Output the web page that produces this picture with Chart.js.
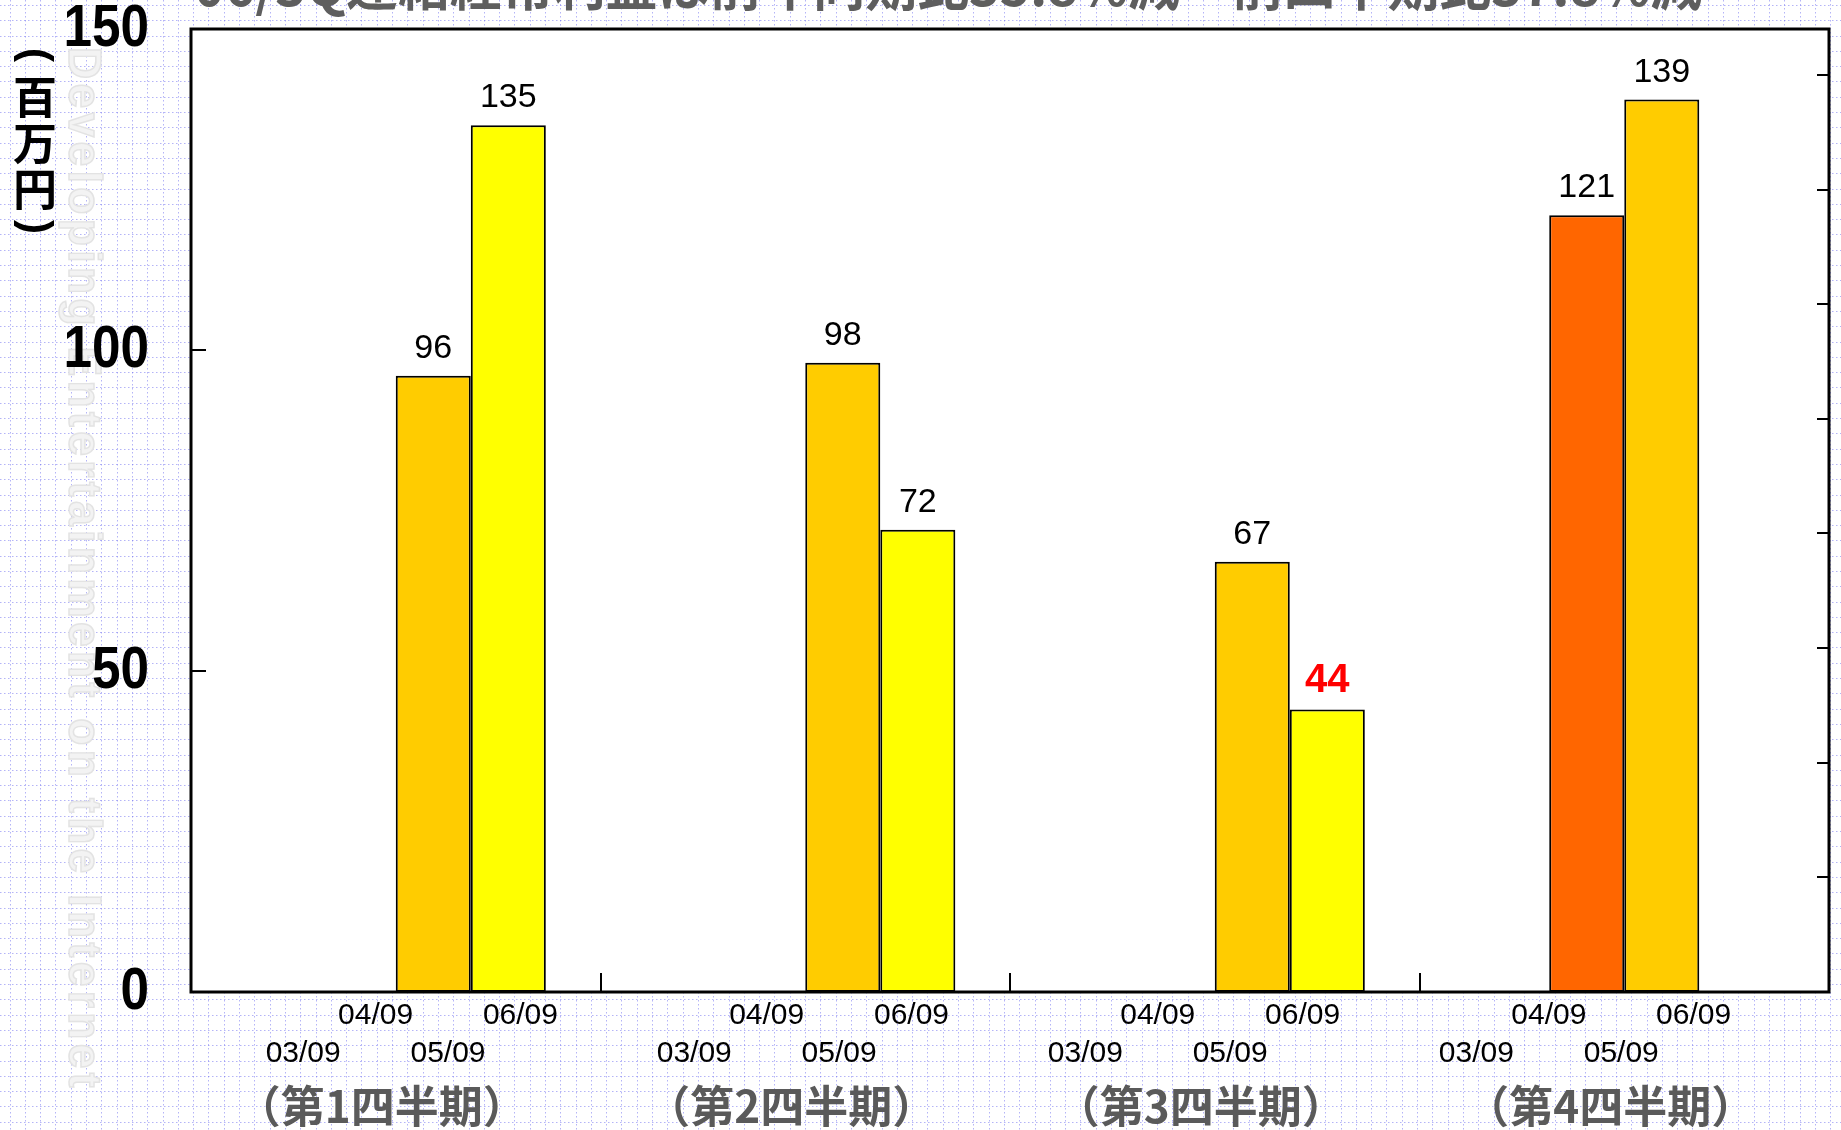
<!DOCTYPE html>
<html lang="ja">
<head>
<meta charset="utf-8">
<title>連結経常利益 四半期推移</title>
<script src="https://cdn.jsdelivr.net/npm/chart.js@4.4.1/dist/chart.umd.min.js"></script>
<style>
  html, body { margin: 0; padding: 0; background: #fff; }
  #wrap { width: 1841px; height: 1130px; position: relative; }
</style>
</head>
<body>
<div id="wrap"><canvas id="profit"></canvas></div>
<script>
// quarterly recurring profit (百万円), one series per fiscal year
const quarters = ['（第1四半期）', '（第2四半期）', '（第3四半期）', '（第4四半期）'];
const periods = ['03/09', '04/09', '05/09', '06/09'];
const fy03 = [null, null, null, null];
const fy04 = [null, null, null, 121];
const fy05 = [96, 98, 67, 139];
const fy06 = [135, 72, 44, null];
const yTicks = [0, 50, 100, 150];
const rightTicks = [1, 2, 3, 4, 5, 6, 7, 8];
const headline = '06/3Q連結経常利益は前年同期比35.8%減　前四半期比37.8%減';
const unitChars = ['(', '百', '万', '円', ')'];
const slogan = 'Developing Entertainment on the Internet';

const barColors = ['#FF3300', '#FF6600', '#FFCC00', '#FFFF00'];
const catPct = 0.733;

const SANS = '"Liberation Sans", Arial, sans-serif';
const JP = '"Noto Sans CJK JP", "Noto Sans", sans-serif';

const decor = {
  id: 'decor',
  beforeDraw(chart) {
    const { ctx, width, height, chartArea: a } = chart;
    ctx.save();
    ctx.fillStyle = '#fff';
    ctx.fillRect(0, 0, width, height);

    // dotted graph paper
    ctx.strokeStyle = 'rgba(105,105,240,0.5)';
    ctx.lineWidth = 1;
    ctx.setLineDash([1.5, 2.5]);
    const step = 15.3;
    ctx.beginPath();
    for (let x = 9.5; x < width; x += step) {
      ctx.moveTo(Math.round(x) + 0.5, 0);
      ctx.lineTo(Math.round(x) + 0.5, height);
    }
    for (let y = 4.9; y < height; y += step) {
      ctx.moveTo(0, Math.round(y) + 0.5);
      ctx.lineTo(width, Math.round(y) + 0.5);
    }
    ctx.stroke();
    ctx.setLineDash([]);

    // vertical slogan down the left margin
    ctx.translate(82, 47);
    ctx.rotate(Math.PI / 2);
    ctx.font = 'bold 46px ' + SANS;
    ctx.letterSpacing = '4.5px';
    ctx.textBaseline = 'middle';
    ctx.fillStyle = '#f3f3f3';
    ctx.strokeStyle = '#e3e3e3';
    ctx.lineWidth = 1.5;
    ctx.fillText(slogan, 0, 0, 1045);
    ctx.strokeText(slogan, 0, 0, 1045);
    ctx.restore();

    // white plot area
    ctx.save();
    ctx.fillStyle = '#fff';
    ctx.fillRect(a.left, a.top, a.right - a.left, a.bottom - a.top);
    ctx.restore();
  },
  afterDatasetsDraw(chart) {
    const { ctx, chartArea: a, scales } = chart;
    const xs = scales.x, ys = scales.y, y2 = scales.y2;
    ctx.save();

    // frame
    ctx.strokeStyle = '#000';
    ctx.lineWidth = 3;
    ctx.strokeRect(a.left, a.top, a.right - a.left, a.bottom - a.top);

    // inward tick marks
    ctx.lineWidth = 2;
    ctx.beginPath();
    yTicks.slice(1, -1).forEach(v => {
      const py = Math.round(ys.getPixelForValue(v));
      ctx.moveTo(a.left, py);
      ctx.lineTo(a.left + 15, py);
    });
    rightTicks.forEach(v => {
      const py = Math.round(y2.getPixelForValue(v));
      ctx.moveTo(a.right - 12, py);
      ctx.lineTo(a.right, py);
    });
    for (let i = 0; i < quarters.length - 1; i++) {
      const px = Math.round((xs.getPixelForValue(i) + xs.getPixelForValue(i + 1)) / 2);
      ctx.moveTo(px, a.bottom);
      ctx.lineTo(px, a.bottom - 19);
    }
    ctx.stroke();

    // y tick labels, condensed bold figures
    ctx.font = 'bold 60px ' + SANS;
    ctx.fillStyle = '#000';
    ctx.textAlign = 'right';
    ctx.textBaseline = 'middle';
    yTicks.forEach(v => {
      const s = String(v);
      ctx.fillText(s, a.left - 42, ys.getPixelForValue(v), s.length * 28.5);
    });

    // value labels above bars
    ctx.textAlign = 'center';
    ctx.textBaseline = 'alphabetic';
    chart.data.datasets.forEach((ds, di) => {
      const meta = chart.getDatasetMeta(di);
      meta.data.forEach((bar, i) => {
        const v = ds.data[i];
        if (v == null) return;
        const hot = di === 3 && i === 2;
        ctx.font = hot ? 'bold 40px ' + SANS : '34px ' + SANS;
        ctx.fillStyle = hot ? '#ff0000' : '#000';
        ctx.fillText(String(v), bar.x, bar.y - 18);
      });
    });

    // fiscal-year labels under each group, staggered in two rows
    const n = chart.data.datasets.length;
    const catW = xs.width / quarters.length;
    const slot = catW * catPct / n;
    const first = xs.getPixelForValue(0) - (n - 1) / 2 * slot + 20;
    ctx.font = '30px ' + SANS;
    ctx.fillStyle = '#000';
    ctx.textBaseline = 'middle';
    quarters.forEach((q, i) => {
      periods.forEach((p, k) => {
        const px = first + i * catW * 0.955 + k * slot * 0.965;
        const py = k % 2 ? a.bottom + 24 : a.bottom + 62;
        ctx.fillText(p, px, py);
      });
    });

    // unit label, written vertically
    ctx.fillStyle = '#000';
    const unitY = [55, 97, 143, 189, 227];
    unitChars.forEach((ch, i) => {
      ctx.save();
      ctx.translate(35, unitY[i]);
      if (ch === '(' || ch === ')') {
        ctx.rotate(Math.PI / 2);
        ctx.font = 'bold 42px ' + SANS;
      } else {
        ctx.font = 'bold 44px ' + JP;
      }
      ctx.textAlign = 'center';
      ctx.textBaseline = 'middle';
      ctx.fillText(ch, 0, 0);
      ctx.restore();
    });

    // headline, running off the top edge
    ctx.font = 'bold 54px ' + JP;
    ctx.fillStyle = '#5e5e5e';
    ctx.textAlign = 'left';
    ctx.textBaseline = 'alphabetic';
    ctx.fillText(headline, 194, 6, 1508);

    ctx.restore();
  }
};

const series = [fy03, fy04, fy05, fy06];

new Chart(document.getElementById('profit'), {
  type: 'bar',
  data: {
    labels: quarters,
    datasets: series.map((data, i) => ({
      label: periods[i],
      data: data,
      backgroundColor: barColors[i],
      borderColor: '#000',
      borderWidth: 2,
      borderSkipped: false,
      categoryPercentage: catPct,
      barPercentage: 1.0
    }))
  },
  options: {
    responsive: true,
    maintainAspectRatio: false,
    animation: false,
    layout: { padding: { top: 29, left: 0, right: 0, bottom: 0 } },
    plugins: {
      legend: { display: false },
      tooltip: { enabled: false }
    },
    scales: {
      x: {
        type: 'category',
        grid: { display: false, drawTicks: false },
        border: { display: false },
        ticks: {
          color: '#5a5a5a',
          font: { family: JP, size: 44, weight: 'bold' },
          padding: 88,
          maxRotation: 0,
          autoSkip: false,
          labelOffset: -14
        },
        afterFit(s) { s.height = 138; s.paddingLeft = 0; s.paddingRight = 0; }
      },
      y: {
        position: 'left',
        min: 0,
        max: 150,
        grid: { display: false, drawTicks: false },
        border: { display: false },
        ticks: { display: false },
        afterBuildTicks(s) { s.ticks = yTicks.map(v => ({ value: v })); },
        afterFit(s) { s.width = 191; s.paddingTop = 0; s.paddingBottom = 0; }
      },
      y2: {
        position: 'right',
        min: 0,
        max: 8.4,
        grid: { display: false, drawTicks: false },
        border: { display: false },
        ticks: { display: false },
        afterFit(s) { s.width = 12; s.paddingTop = 0; s.paddingBottom = 0; }
      }
    }
  },
  plugins: [decor]
});
</script>
</body>
</html>
